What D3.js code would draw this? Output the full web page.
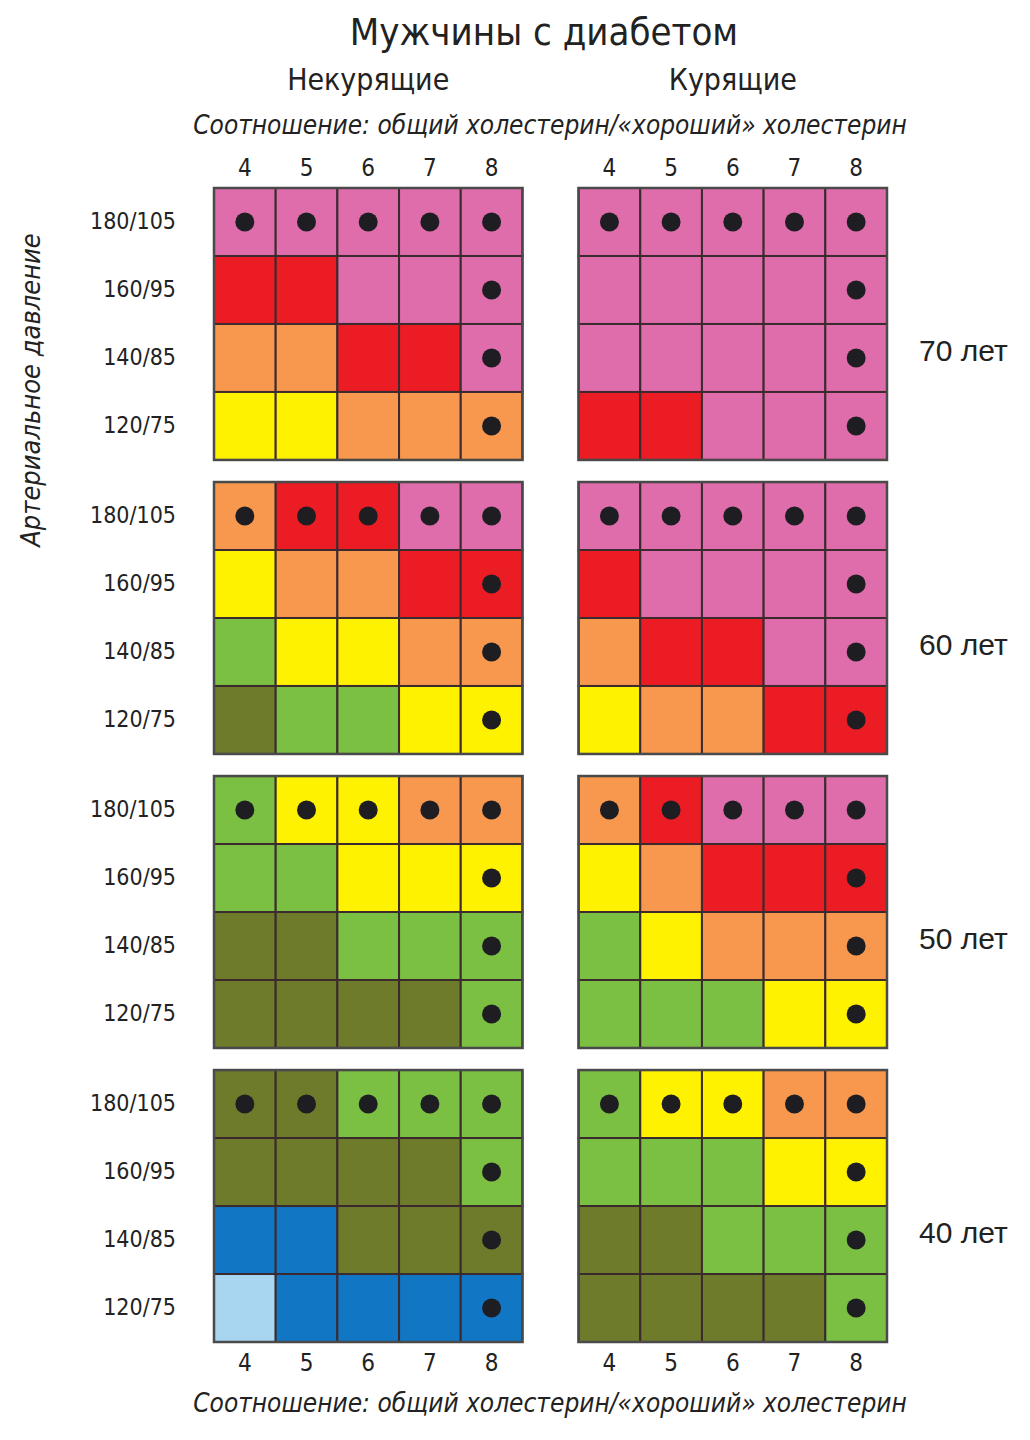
<!DOCTYPE html>
<html><head><meta charset="utf-8">
<script src="https://cdn.jsdelivr.net/npm/d3@7"></script>
<style>body{margin:0;background:#fff}svg{display:block}</style>
</head><body>
<script>
const ratios = ["4","5","6","7","8"];
const pressures = ["180/105","160/95","140/85","120/75"];
const ages = ["70 лет","60 лет","50 лет","40 лет"];
const groups = ["Некурящие","Курящие"];
// risk codes: L lightblue, B blue, D olive, G green, Y yellow, O orange, R red, P pink
const nonSmokers = [
  ["PPPPP","RRPPP","OORRP","YYOOO"],
  ["ORRPP","YOORR","GYYOO","DGGYY"],
  ["GYYOO","GGYYY","DDGGG","DDDDG"],
  ["DDGGG","DDDDG","BBDDD","LBBBB"]
];
const smokers = [
  ["PPPPP","PPPPP","PPPPP","RRPPP"],
  ["PPPPP","RPPPP","ORRPP","YOORR"],
  ["ORPPP","YORRR","GYOOO","GGGYY"],
  ["GYYOO","GGGYY","DDGGG","DDDDG"]
];
const riskCodes = ["L","B","D","G","Y","O","R","P"];
const riskColors = ["#a8d5ef","#1176c4","#6e7b2b","#7bc043","#fff200","#f7984e","#ec1c24","#df6dab"];

const W=1030,H=1440;
const svg=d3.select("body").append("svg").attr("width",W).attr("height",H);
const color=d3.scaleOrdinal(riskCodes,riskColors);
const narrow='"Liberation Sans Narrow","DejaVu Sans Condensed",sans-serif';

const panelX=d3.scaleBand().domain(groups).range([214,887]).paddingInner(0.154);
const panelY=d3.scaleBand().domain(ages).range([188,1342]).paddingInner(0.075);
const x=d3.scaleBand().domain(ratios).range([0,panelX.bandwidth()]);
const y=d3.scaleBand().domain(pressures).range([0,panelY.bandwidth()]);

svg.append("text").attr("x",544).attr("y",45).attr("text-anchor","middle")
  .style("font-family",narrow).style("font-size","38px").attr("fill","#222").text("Мужчины с диабетом");
groups.forEach(g=>{
  svg.append("text").attr("x",panelX(g)+panelX.bandwidth()/2).attr("y",90).attr("text-anchor","middle")
   .style("font-family",narrow).style("font-size","30px").attr("fill","#222").text(g);
});
[134,1412].forEach(yy=>{
  svg.append("text").attr("x",550).attr("y",yy).attr("text-anchor","middle")
   .style("font-family",narrow).style("font-style","italic").style("font-size","26px").attr("fill","#222")
   .text("Соотношение: общий холестерин/«хороший» холестерин");
});
svg.append("text").attr("transform","translate(40,390) rotate(-90)").attr("text-anchor","middle")
  .style("font-family",narrow).style("font-style","italic").style("font-size","27px").attr("fill","#222")
  .text("Артериальное давление");

const data=[nonSmokers,smokers];
groups.forEach((g,gi)=>{
  ages.forEach((a,ai)=>{
    const gp=svg.append("g").attr("transform",`translate(${panelX(g)},${panelY(a)})`);
    const cells=[];
    pressures.forEach((p,pi)=>ratios.forEach((r,ri)=>cells.push({p,r,c:data[gi][ai][pi][ri],dot:pi===0||ri===4})));
    gp.selectAll("rect.c").data(cells).join("rect").attr("class","c")
      .attr("x",d=>x(d.r)).attr("y",d=>y(d.p)).attr("width",x.bandwidth()).attr("height",y.bandwidth())
      .attr("fill",d=>color(d.c)).attr("stroke","#3b2a2e").attr("stroke-width",2);
    gp.append("rect").attr("width",panelX.bandwidth()).attr("height",panelY.bandwidth())
      .attr("fill","none").attr("stroke","#4a4a4a").attr("stroke-width",2.5);
    gp.selectAll("circle").data(cells.filter(d=>d.dot)).join("circle")
      .attr("cx",d=>x(d.r)+x.bandwidth()/2).attr("cy",d=>y(d.p)+y.bandwidth()/2)
      .attr("r",9.5).attr("fill","#1e1e22");
    if(gi===0){
      const ax=d3.axisLeft(y).tickSize(0).tickPadding(38);
      const ag=gp.append("g").call(ax);
      ag.select(".domain").remove();
      ag.selectAll("text").style("font-family",narrow).style("font-size","23px").attr("fill","#222");
    } else {
      gp.append("text").attr("x",panelX.bandwidth()+32).attr("y",panelY.bandwidth()/2+37)
        .style("font-family",'"Liberation Sans",Arial,sans-serif').style("font-size","30px").attr("fill","#222").text(a);
    }
    if(ai===0||ai===3){
      const ax=(ai===0?d3.axisTop(x):d3.axisBottom(x)).tickSize(0).tickPadding(12);
      const ag=gp.append("g").attr("transform",ai===0?"":`translate(0,${panelY.bandwidth()})`).call(ax);
      ag.select(".domain").remove();
      ag.selectAll("text").style("font-family",narrow).style("font-size","24px").attr("fill","#222");
    }
  });
});
</script>
</body></html>
